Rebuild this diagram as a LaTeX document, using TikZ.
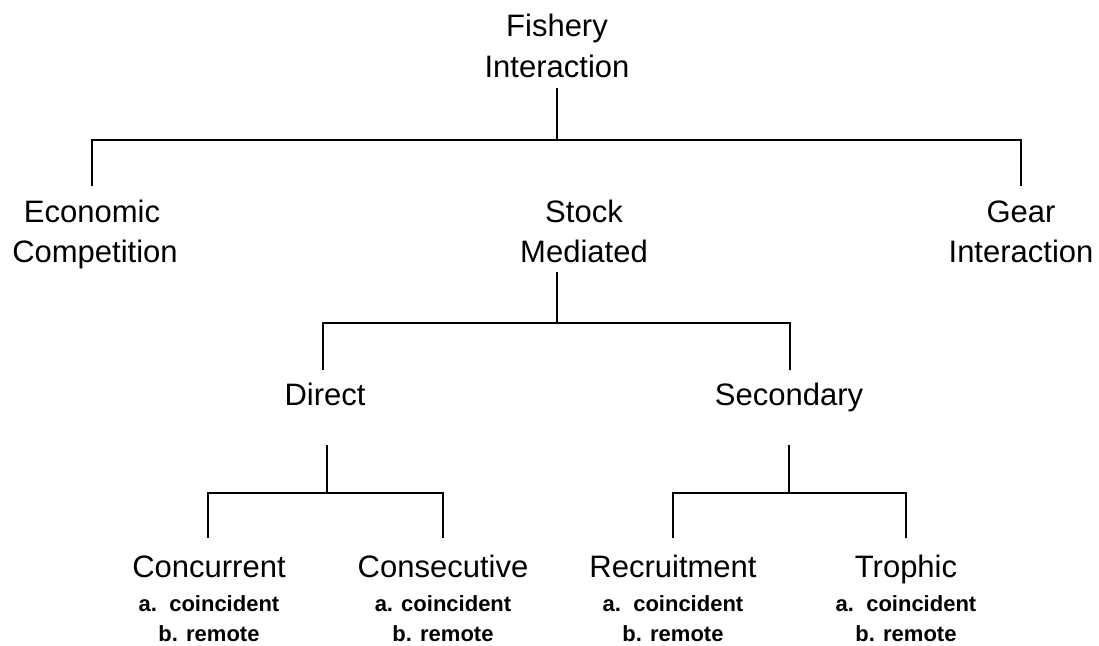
\documentclass[tikz,border=0pt]{standalone}
\usepackage{fontspec}
\setmainfont{Liberation Sans}
\begin{document}
\begin{tikzpicture}[x=1pt,y=-1pt,
  big/.style={font=\fontsize{31}{37}\selectfont, inner sep=0pt, anchor=base},
  small/.style={font=\fontsize{22}{26}\selectfont\bfseries, inner sep=0pt, anchor=base},
  wire/.style={line width=1.9pt, black}]
\useasboundingbox (0,0) rectangle (1099,645);
% top
\node[big] (f1) at (557,36) {Fishery};
\node[big] (f2) at (557,77) {Interaction};
\node[big] (e1) at (92,222) {Economic};
\node[big] (e2) at (95,262) {Competition};
\node[big] (s1) at (584,222) {Stock};
\node[big] (s2) at (584,262) {Mediated};
\node[big] (g1) at (1021,222) {Gear};
\node[big] (g2) at (1021,262) {Interaction};
\node[big] (d) at (325,405) {Direct};
\node[big] (sec) at (789,405) {Secondary};
\node[big] (cc) at (209,577) {Concurrent};
\node[big] (cs) at (443,577) {Consecutive};
\node[big] (rc) at (673,577) {Recruitment};
\node[big] (tr) at (906,577) {Trophic};
\node[small] (cca) at (209,611) {a.\ \ coincident};
\node[small] (ccb) at (209,641) {b. remote};
\node[small] (csa) at (443,611) {a. coincident};
\node[small] (csb) at (443,641) {b. remote};
\node[small] (rca) at (673,611) {a.\ \ coincident};
\node[small] (rcb) at (673,641) {b. remote};
\node[small] (tra) at (906,611) {a.\ \ coincident};
\node[small] (trb) at (906,641) {b. remote};
% connector coordinates
\coordinate (t0) at (557,88);
\coordinate (j0) at (557,140);
\coordinate (j0l) at (92,140);
\coordinate (j0r) at (1021,140);
\coordinate (e0) at (92,186);
\coordinate (g0) at (1021,186);
\coordinate (t1) at (557,272);
\coordinate (j1) at (557,323);
\coordinate (j1l) at (323,323);
\coordinate (j1r) at (790,323);
\coordinate (d0) at (323,370);
\coordinate (sec0) at (790,370);
\coordinate (t2) at (327,445);
\coordinate (j2) at (327,493);
\coordinate (j2l) at (208,493);
\coordinate (j2r) at (443,493);
\coordinate (cc0) at (208,538);
\coordinate (cs0) at (443,538);
\coordinate (t3) at (789,445);
\coordinate (j3) at (789,493);
\coordinate (j3l) at (673,493);
\coordinate (j3r) at (906,493);
\coordinate (rc0) at (673,538);
\coordinate (tr0) at (906,538);
\draw[wire] (t0) -- (j0);
\draw[wire] (e0) -- (j0l) -- (j0r) -- (g0);
\draw[wire] (t1) -- (j1);
\draw[wire] (d0) -- (j1l) -- (j1r) -- (sec0);
\draw[wire] (t2) -- (j2);
\draw[wire] (cc0) -- (j2l) -- (j2r) -- (cs0);
\draw[wire] (t3) -- (j3);
\draw[wire] (rc0) -- (j3l) -- (j3r) -- (tr0);
\end{tikzpicture}
\end{document}
